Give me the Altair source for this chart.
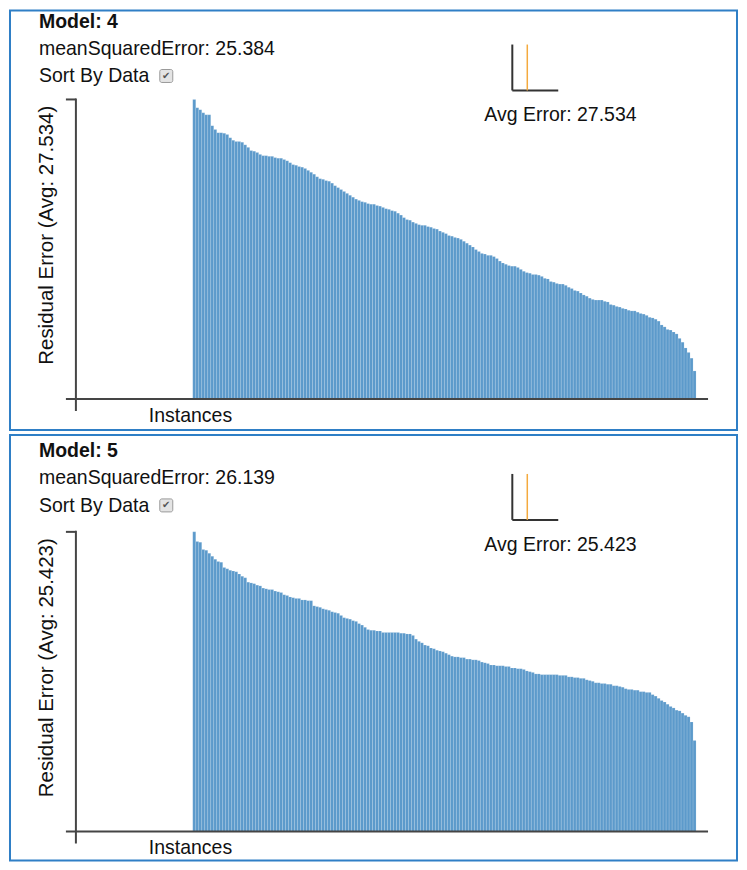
import altair as alt
import pandas as pd

MODELS = ["4", "5"]
MSE = ["25.384", "26.139"]
AVG_ERROR = ["27.534", "25.423"]

# sorted residual errors (168 instances per model)
ERR_MODEL4 = [
    46.9, 45.6, 45.3, 44.8, 44.5, 44.5, 42.8, 42.2, 41.7, 41.7,
    41.6, 41.4, 40.9, 40.5, 40.3, 40.3, 40.2, 39.8, 39.4, 38.9,
    38.8, 38.6, 38.3, 38.1, 38.1, 38.0, 38.0, 37.8, 37.7, 37.7,
    37.5, 37.3, 37.0, 36.7, 36.6, 36.4, 36.3, 36.1, 35.8, 35.5,
    35.2, 34.8, 34.5, 34.4, 34.2, 34.1, 33.8, 33.4, 33.1, 32.8,
    32.5, 32.2, 31.9, 31.6, 31.3, 31.1, 30.9, 30.8, 30.6, 30.5,
    30.5, 30.3, 30.2, 30.0, 29.8, 29.7, 29.5, 29.4, 29.1, 28.8,
    28.4, 28.1, 28.0, 27.7, 27.5, 27.3, 27.2, 27.2, 27.0, 26.9,
    26.7, 26.6, 26.3, 26.1, 25.9, 25.6, 25.5, 25.3, 25.2, 25.0,
    24.7, 24.4, 24.1, 23.8, 23.4, 23.1, 22.8, 22.7, 22.5, 22.5,
    22.3, 22.0, 21.6, 21.3, 21.1, 20.9, 20.8, 20.8, 20.6, 20.3,
    20.0, 19.8, 19.7, 19.5, 19.5, 19.4, 19.2, 18.9, 18.8, 18.4,
    18.3, 18.1, 18.0, 18.0, 17.8, 17.5, 17.3, 17.0, 16.9, 16.6,
    16.3, 16.1, 15.8, 15.6, 15.5, 15.5, 15.5, 15.3, 15.2, 14.8,
    14.7, 14.5, 14.4, 14.2, 14.1, 13.9, 13.8, 13.8, 13.6, 13.4,
    13.3, 13.1, 12.8, 12.7, 12.5, 12.2, 11.6, 11.3, 10.9, 10.8,
    10.5, 10.2, 9.5, 8.9, 8.0, 7.3, 6.4, 4.4,
]
ERR_MODEL5 = [
    40.5, 39.2, 39.1, 38.1, 38.0, 37.6, 37.2, 36.8, 36.5, 36.4,
    35.7, 35.5, 35.3, 35.2, 35.1, 34.8, 34.5, 34.3, 33.7, 33.6,
    33.5, 33.3, 33.2, 32.9, 32.8, 32.7, 32.7, 32.5, 32.4, 32.3,
    32.0, 31.9, 31.7, 31.6, 31.5, 31.5, 31.3, 31.3, 31.2, 31.2,
    30.5, 30.4, 30.3, 30.1, 30.0, 29.9, 29.7, 29.6, 29.5, 29.2,
    28.9, 28.8, 28.7, 28.5, 28.4, 28.1, 27.9, 27.6, 27.3, 27.2,
    27.2, 27.1, 27.1, 26.9, 26.9, 26.9, 26.9, 26.9, 26.9, 26.8,
    26.8, 26.7, 26.7, 26.5, 26.0, 25.7, 25.5, 25.2, 25.1, 24.8,
    24.7, 24.5, 24.4, 24.3, 24.1, 23.9, 23.7, 23.6, 23.6, 23.5,
    23.5, 23.3, 23.3, 23.2, 23.2, 23.1, 22.9, 22.8, 22.7, 22.5,
    22.5, 22.4, 22.4, 22.4, 22.3, 22.3, 22.1, 22.1, 22.0, 22.0,
    21.9, 21.7, 21.6, 21.5, 21.3, 21.3, 21.2, 21.2, 21.2, 21.2,
    21.2, 21.2, 21.1, 21.1, 21.1, 20.9, 20.9, 20.8, 20.8, 20.7,
    20.7, 20.5, 20.4, 20.3, 20.1, 20.1, 20.0, 20.0, 19.9, 19.9,
    19.7, 19.7, 19.6, 19.5, 19.3, 19.2, 19.2, 19.1, 19.1, 18.9,
    18.9, 18.8, 18.8, 18.5, 18.3, 18.0, 17.7, 17.5, 17.2, 16.9,
    16.7, 16.4, 16.3, 16.0, 15.7, 15.5, 14.8, 12.3,
]

FONT = "Liberation Sans"
BLUE_BORDER = "#2f7fc6"
BAR_COLOR = "#5c9acb"
AXIS_COLOR = "#454545"
ORANGE = "#f4aa3e"
PLOT_W, PLOT_H = 633, 300


def panel(model, mse, avg, errs, border_top, border_bottom, dy):
    df = pd.DataFrame({"instance": list(range(len(errs))), "error": errs})
    df["instance_end"] = df["instance"] + 1
    one = alt.Chart(pd.DataFrame({"k": [0]}))

    bars = alt.Chart(df).mark_bar(
        color=BAR_COLOR, stroke="white", strokeOpacity=0.22, strokeWidth=0.6
    ).encode(
        x=alt.X("instance:Q", scale=alt.Scale(domain=[-39, 172], nice=False, zero=False), axis=None),
        x2="instance_end:Q",
        y=alt.Y("error:Q", scale=alt.Scale(domain=[0, max(errs)], nice=False), axis=None),
        y2=alt.datum(0),
    )

    def rule(x, x2, y, y2, color, width):
        return one.mark_rule(color=color, strokeWidth=width).encode(
            x=alt.value(x), x2=alt.value(x2), y=alt.value(y), y2=alt.value(y2)
        )

    def text(t, x, y, **kw):
        props = dict(text=t, align="left", baseline="alphabetic", font=FONT,
                     fontSize=19.5, color="#111111")
        props.update(kw)
        return one.mark_text(**props).encode(x=alt.value(x), y=alt.value(y))

    border = one.mark_rect(
        fill="white", fillOpacity=0, stroke=BLUE_BORDER, strokeWidth=2
    ).encode(
        x=alt.value(-66), x2=alt.value(662), y=alt.value(border_top), y2=alt.value(border_bottom)
    )

    checkbox = one.mark_rect(
        fill="#e4e4e4", stroke="#9a9a9a", strokeWidth=1, cornerRadius=2
    ).encode(x=alt.value(84), x2=alt.value(97), y=alt.value(-30 + dy), y2=alt.value(-17 + dy))
    check = one.mark_text(
        text="✔", align="center", baseline="middle", fontSize=10, color="#555555",
        font="DejaVu Sans",
    ).encode(x=alt.value(90.5), y=alt.value(-23.5 + dy))

    layers = [
        border,
        bars,
        # y axis (with outer tick at top), x axis (with outer tick below origin)
        rule(0, 0, -1, 312, AXIS_COLOR, 2),
        rule(-10, 0, 0, 0, AXIS_COLOR, 2),
        rule(-10, 633, 300, 300, AXIS_COLOR, 2),
        text(f"Model:  {model}", -37, -72 + dy, fontWeight="bold"),
        text(f"meanSquaredError: {mse}", -37, -45 + dy),
        text("Sort By Data", -37, -17 + dy),
        checkbox,
        check,
        # mini legend
        rule(437, 437, -55 + dy, -9 + dy, "#333333", 2),
        rule(437, 483, -9 + dy, -9 + dy, "#333333", 2),
        rule(452, 452, -55 + dy, -9 + dy, ORANGE, 1.5),
        text(f"Avg Error: {avg}", 409, 22 + dy),
        text(f"Residual Error (Avg: {avg})", -23, 136, angle=270, align="center", fontSize=20.5),
        text("Instances", 73, 323),
    ]
    return alt.layer(*layers).properties(width=PLOT_W, height=PLOT_H)


p1 = panel(MODELS[0], MSE[0], AVG_ERROR[0], ERR_MODEL4, -89, 331, 0)
p2 = panel(MODELS[1], MSE[1], AVG_ERROR[1], ERR_MODEL5, -97, 329, -3)

chart = alt.vconcat(p1, p2, spacing=1).properties(
    padding=0, background="white"
).configure_view(stroke="transparent")

chart.save("out.html", embed_options={"renderer": "svg", "actions": False})
